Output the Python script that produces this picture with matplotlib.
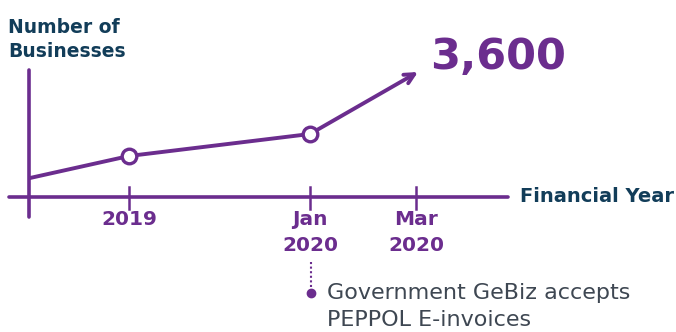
import matplotlib
matplotlib.use("Agg")
import matplotlib.pyplot as plt

# ---- data (schematic chart) ----
periods = ["start", "2019", "Jan\n2020", "Mar\n2020"]
x_pos = [0.0, 0.99, 2.80, 3.88]          # position along the financial-year axis
businesses = [0.19, 0.41, 0.63, 1.25]    # relative number of businesses
tick_labels = ["2019", "Jan\n2020", "Mar\n2020"]
tick_pos = [0.99, 2.80, 3.86]
final_value = "3,600"
note = "Government GeBiz accepts\nPEPPOL E-invoices"

PURPLE = "#6b2d8e"
NAVY = "#123d59"
GREY = "#3e4752"
FONT = "DejaVu Sans"

fig = plt.figure(figsize=(6.76, 3.32), dpi=100)
ax = fig.add_axes([0, 0, 1, 1])
ax.set_xlim(-0.30, 6.46)
ax.set_ylim(-1.35, 1.97)
ax.axis("off")

# axes lines
ax.plot([-0.21, 4.78], [0, 0], color=PURPLE, lw=2.6, solid_capstyle="round", zorder=1)
ax.plot([-0.01, -0.01], [-0.20, 1.27], color=PURPLE, lw=2.6, solid_capstyle="round", zorder=1)
for tp, tl in zip(tick_pos, tick_labels):
    ax.plot([tp, tp], [-0.12, 0.10], color=PURPLE, lw=1.8, zorder=1)
    ax.text(tp, -0.13, tl, ha="center", va="top", fontsize=14.5, fontweight="bold",
            color=PURPLE, family=FONT, linespacing=1.45)

# series line
ax.plot(x_pos[:-1], businesses[:-1], color=PURPLE, lw=2.8, solid_capstyle="round", zorder=2)
ax.annotate("", xy=(x_pos[-1], businesses[-1]), xytext=(x_pos[-2], businesses[-2]),
            arrowprops=dict(arrowstyle="->,head_length=0.7,head_width=0.35", color=PURPLE, lw=2.8,
                            shrinkA=0, shrinkB=0, capstyle="round", joinstyle="round"), zorder=2)
ax.plot(x_pos[1:3], businesses[1:3], "o", ms=10.5, mfc="white", mec=PURPLE, mew=2.4, zorder=3)

ax.text(4.00, 1.40, final_value, ha="left", va="center", fontsize=31, fontweight="bold",
        color=PURPLE, family=FONT)

# axis titles
ax.text(-0.22, 1.79, "Number of\nBusinesses", ha="left", va="top", fontsize=13.5,
        fontweight="bold", color=NAVY, family=FONT, linespacing=1.35)
ax.text(4.90, 0.0, "Financial Year", ha="left", va="center", fontsize=14,
        fontweight="bold", color=NAVY, family=FONT)

# annotation
ax.plot([2.81, 2.81], [-0.65, -0.93], color=PURPLE, lw=1.5, ls=(0, (1, 1.2)), zorder=1)
ax.plot([2.81], [-0.96], "o", ms=6, color=PURPLE, zorder=2)
ax.text(2.97, -0.86, note, ha="left", va="top", fontsize=16, color=GREY,
        family=FONT, linespacing=1.45)

fig.savefig("out.png", dpi=100)
